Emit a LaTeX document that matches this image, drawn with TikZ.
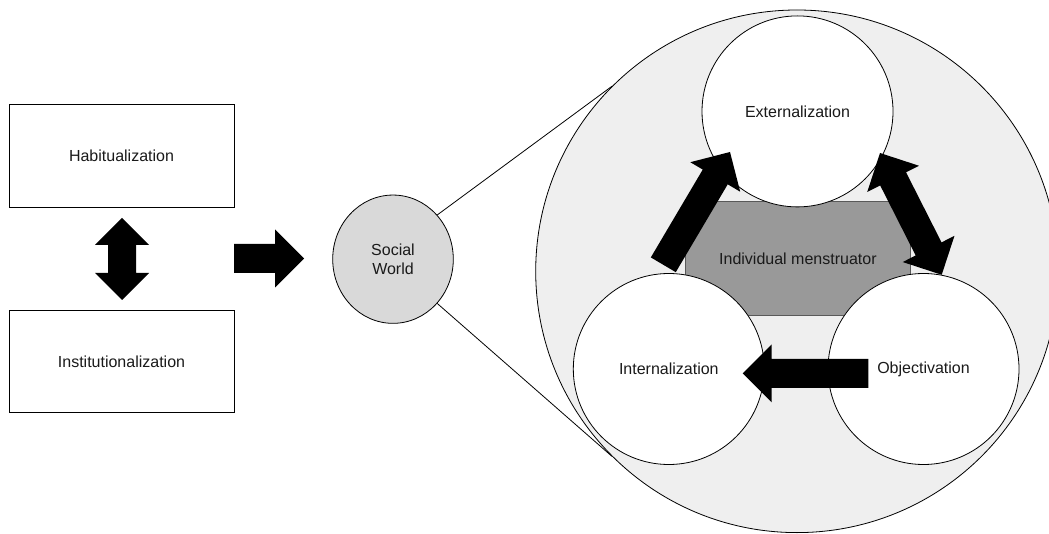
\documentclass[tikz,border=0pt]{standalone}
\usepackage{fontspec}
\setmainfont{Liberation Sans}
\usetikzlibrary{calc,shapes.geometric}
\definecolor{bigfill}{HTML}{EFEFEF}
\definecolor{swfill}{HTML}{D9D9D9}
\definecolor{indfill}{HTML}{999999}
\definecolor{indline}{HTML}{595959}
\definecolor{txt}{HTML}{1A1A1A}
\newlength{\shw}\setlength{\shw}{14.5pt}
\newlength{\hhw}\setlength{\hhw}{29pt}
\newlength{\hlen}\setlength{\hlen}{29pt}
\newcommand{\blkarrow}[2]{%
  \coordinate (hb) at ($(#2)!\hlen!(#1)$);
  \fill[arrowfill] ($(#1)!\shw!90:(#2)$) -- ($(hb)!\shw!90:(#2)$) -- ($(hb)!\hhw!90:(#2)$)
    -- (#2) -- ($(hb)!\hhw!-90:(#2)$) -- ($(hb)!\shw!-90:(#2)$) -- ($(#1)!\shw!-90:(#2)$) -- cycle;}
\newcommand{\dblkarrow}[2]{%
  \coordinate (ha) at ($(#1)!\hlen!(#2)$);
  \coordinate (hb) at ($(#2)!\hlen!(#1)$);
  \fill[arrowfill] (#1) -- ($(ha)!\hhw!90:(#2)$) -- ($(ha)!\shw!90:(#2)$) -- ($(hb)!\shw!90:(#2)$)
    -- ($(hb)!\hhw!90:(#2)$) -- (#2) -- ($(hb)!\hhw!-90:(#2)$) -- ($(hb)!\shw!-90:(#2)$)
    -- ($(ha)!\shw!-90:(#2)$) -- ($(ha)!\hhw!-90:(#2)$) -- cycle;}
\begin{document}
\begin{tikzpicture}[x=1pt,y=-1pt,line width=0.8pt,
  lbl/.style={font=\fontsize{16}{18.3}\selectfont,text=txt,align=center},
  box/.style={lbl,draw=black,fill=white,minimum width=225pt,minimum height=102.5pt,inner sep=0pt},
  wcirc/.style={lbl,circle,draw=black,fill=white,minimum size=191pt,inner sep=0pt},
  arrowfill/.style={fill=black}]
\useasboundingbox (0,0) rectangle (1049,534);
\clip (0,0) rectangle (1049,534);
\fill[white] (0,0) rectangle (1049,534);
% left part
\node[box] (hab) at (121.5,155.7) {Habitualization};
\node[box] (inst) at (121.5,361.5) {Institutionalization};
\coordinate (va) at (122,218);
\coordinate (vb) at (122,300);
\begingroup
\setlength{\hhw}{27pt}\setlength{\hlen}{27pt}\setlength{\shw}{14pt}
\dblkarrow{va}{vb}
\endgroup
\coordinate (ra) at (234,258.5);
\coordinate (rb) at (304,258.5);
\blkarrow{ra}{rb}
\node[lbl,ellipse,draw=black,fill=swfill,minimum width=120.6pt,minimum height=128.3pt,inner sep=0pt] (sw) at (393,259.2) {Social\\World};
% big circle
\node[circle,draw=black,fill=bigfill,minimum size=522.6pt,inner sep=0pt] (big) at (797,271.3) {};
\draw (sw.45) -- (big.135);
\draw (sw.-45) -- (big.-135);
\node[lbl,draw=indline,fill=indfill,minimum width=225.7pt,minimum height=114.2pt,inner sep=0pt] (ind) at (797.9,258.5) {Individual menstruator};
\node[wcirc] (ext) at (797.5,111.4) {Externalization};
\node[wcirc] (int) at (668.8,369) {Internalization};
\node[wcirc] (obj) at (923.5,369) {Objectivation};
% arrows in big circle
\coordinate (a1) at (663.3,264.8);
\coordinate (b1) at (730,152);
\blkarrow{a1}{b1}
\coordinate (a2) at (880,153);
\coordinate (b2) at (941.7,274.8);
\dblkarrow{a2}{b2}
\coordinate (a3) at (868.3,373.3);
\coordinate (b3) at (742.7,373.3);
\blkarrow{a3}{b3}
\end{tikzpicture}
\end{document}
